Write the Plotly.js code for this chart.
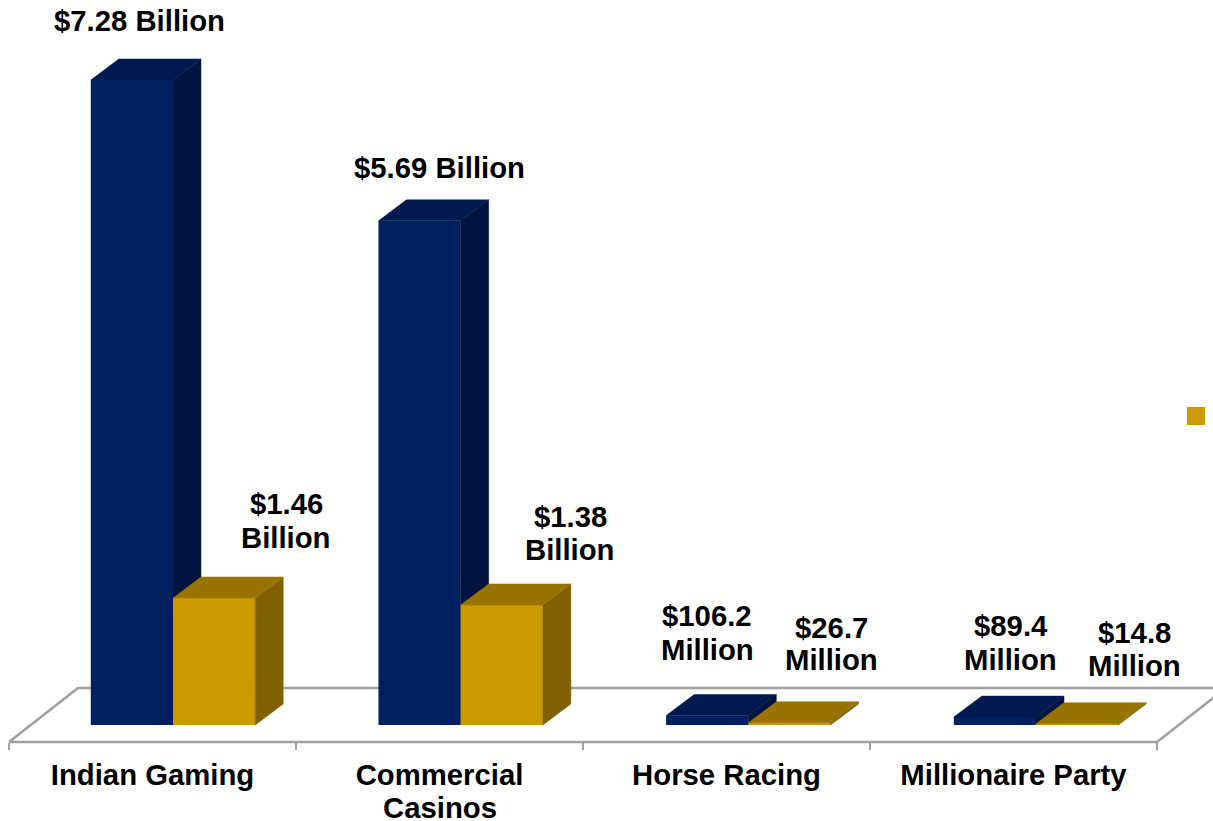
<!DOCTYPE html>
<html>
<head>
<meta charset="utf-8">
<script src="https://cdn.plot.ly/plotly-3.0.1.min.js"></script>
<style>html,body{margin:0;padding:0;background:#fff}#chart{width:1213px;height:821px}</style>
</head>
<body>
<div id="chart"></div>
<script>
// ---- data (billions of dollars) ----
const categories = ['Indian Gaming', 'Commercial', 'Horse Racing', 'Millionaire Party'];
const categorySecondLine = ['', 'Casinos', '', ''];
const navyValues = [7.28, 5.69, 0.1062, 0.0894];
const goldValues = [1.46, 1.38, 0.0267, 0.0148];
const navyLabelLine1 = ['$7.28 Billion', '$5.69 Billion', '$106.2', '$89.4'];
const navyLabelLine2 = ['', '', 'Million', 'Million'];
const goldLabelLine1 = ['$1.46', '$1.38', '$26.7', '$14.8'];
const goldLabelLine2 = ['Billion', 'Billion', 'Million', 'Million'];

// ---- layout ----
const W = 1213, H = 821;
const pxPerCat = 287.67, pxPerUnit = 88.6, goldPxPerUnit = 87, x0px = 173, y0px = 725;
const xRange = [-x0px / pxPerCat, (W - x0px) / pxPerCat];
const yRangeFor = s => [(y0px - H) / s, y0px / s];
const dx = px => (px - x0px) / pxPerCat;
const dy = px => (y0px - px) / pxPerUnit;
const barW = 82.2 / pxPerCat, depthX = 28 / pxPerCat, depthPx = 21;
const font = {family: '"Liberation Sans", Arial, sans-serif', size: 29.3, color: '#000', weight: 700};
const idx = categories.map((_, i) => i);

const navyStyle = {front: '#002060', top: '#001a4f', side: '#00143f'};
const goldStyle = {front: '#cc9900', top: '#997300', side: '#806000'};

function seriesTraces(values, offset, style, scale, xa, ya, name) {
  const depthY = depthPx / scale;
  const out = [{
    type: 'bar', x: idx, y: values, width: barW, offset: offset, name: name,
    marker: {color: style.front, line: {width: 0}}, xaxis: xa, yaxis: ya, hoverinfo: 'y'
  }];
  const top = {x: [], y: []}, side = {x: [], y: []};
  values.forEach((v, i) => {
    const l = i + offset, r = l + barW;
    top.x.push(l, l + depthX, r + depthX, r, l, null);
    top.y.push(v, v + depthY, v + depthY, v, v, null);
    side.x.push(r, r + depthX, r + depthX, r, r, null);
    side.y.push(0, depthY, v + depthY, v, 0, null);
  });
  [[side, style.side], [top, style.top]].forEach(([p, c]) => out.push({
    type: 'scatter', mode: 'lines', x: p.x, y: p.y, fill: 'toself', fillcolor: c,
    line: {width: 0.5, color: c}, xaxis: xa, yaxis: ya, hoverinfo: 'skip', showlegend: false
  }));
  return out;
}

const floor = {
  type: 'scatter', mode: 'lines',
  x: [dx(9), dx(78), dx(1226), dx(1157), dx(9)],
  y: [dy(742), dy(688), dy(688), dy(742), dy(742)],
  line: {color: '#a0a0a0', width: 2.5}, hoverinfo: 'skip', showlegend: false
};

const traces = [floor]
  .concat(seriesTraces(navyValues, -barW, navyStyle, pxPerUnit, 'x2', 'y2', 'Navy series'))
  .concat(seriesTraces(goldValues, 0, goldStyle, goldPxPerUnit, 'x3', 'y3', 'Gold series'));

const labelAt = (text, xpx, ypx) => ({
  text: text, x: xpx / W, y: 1 - ypx / H, xref: 'paper', yref: 'paper',
  xanchor: 'center', yanchor: 'middle', showarrow: false, font: font
});
const navyLabelX = [139.5, 439.5, 707, 1011];
const navyLabelY = [[21], [168], [615, 649], [625, 659]];
const goldLabelX = [286, 570, 831, 1134];
const goldLabelY = [[504, 537], [516, 549], [627, 659], [632, 665]];
const tickStepPx = 287, tickLabelStartPx = 152.5, tickStartPx = 9;

const annotations = [];
idx.forEach(i => {
  annotations.push(labelAt(navyLabelLine1[i], navyLabelX[i], navyLabelY[i][0]));
  if (navyLabelLine2[i]) annotations.push(labelAt(navyLabelLine2[i], navyLabelX[i], navyLabelY[i][1]));
  annotations.push(labelAt(goldLabelLine1[i], goldLabelX[i], goldLabelY[i][0]));
  if (goldLabelLine2[i]) annotations.push(labelAt(goldLabelLine2[i], goldLabelX[i], goldLabelY[i][1]));
  if (categorySecondLine[i]) annotations.push(labelAt(categorySecondLine[i], tickLabelStartPx + i * tickStepPx, 807));
});

const hiddenX = {range: xRange, visible: false, overlaying: 'x', fixedrange: true};
const hidden = (a, s) => ({range: yRangeFor(s), visible: false, overlaying: 'y', anchor: a, fixedrange: true});

const layout = {
  width: W, height: H, margin: {l: 0, r: 0, t: 0, b: 0},
  paper_bgcolor: '#fff', plot_bgcolor: '#fff', showlegend: false,
  xaxis: {
    range: xRange, fixedrange: true, showgrid: false, zeroline: false, showline: false,
    anchor: 'free', position: (H - 742) / H,
    tickmode: 'array', tickvals: idx.map(i => dx(tickLabelStartPx + i * tickStepPx)), ticktext: categories,
    ticks: '', tickfont: font, ticklabelstandoff: 13,
    minor: {tickmode: 'array', tickvals: [0, 1, 2, 3, 4].map(i => dx(tickStartPx + i * tickStepPx)), ticks: 'outside', ticklen: 7, tickwidth: 2, tickcolor: '#a0a0a0', showgrid: false}
  },
  yaxis: {range: yRangeFor(pxPerUnit), visible: false, fixedrange: true},
  xaxis2: Object.assign({anchor: 'y2'}, hiddenX),
  yaxis2: hidden('x2', pxPerUnit),
  xaxis3: Object.assign({anchor: 'y3'}, hiddenX),
  yaxis3: hidden('x3', goldPxPerUnit),
  annotations: annotations,
  shapes: [{type: 'rect', xref: 'paper', yref: 'paper', x0: 1187 / W, x1: 1205 / W, y0: 1 - 407 / H, y1: 1 - 425 / H, fillcolor: goldStyle.front, line: {width: 0}}]
};

Plotly.newPlot('chart', traces, layout, {displayModeBar: false, staticPlot: true});
</script>
</body>
</html>
